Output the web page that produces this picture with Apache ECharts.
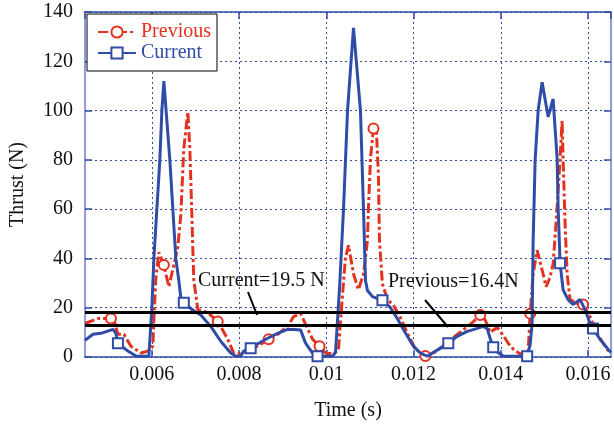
<!DOCTYPE html>
<html>
<head>
<meta charset="utf-8">
<script src="https://cdn.jsdelivr.net/npm/echarts@6/dist/echarts.min.js"></script>
<style>
html,body{margin:0;padding:0;background:#fff;}
#chart{width:614px;height:426px;}
</style>
</head>
<body>
<div id="chart"></div>
<script>
// ---- Data (time in seconds, thrust in N) ----
const prevT = [0.004467,0.004764,0.005062,0.005131,0.005222,0.005359,0.005520,0.005748,0.005909,0.006023,
  0.006046,0.006091,0.006160,0.006275,0.006389,0.006595,0.006664,0.006732,0.006824,0.006870,
  0.006893,0.006938,0.006961,0.007053,0.007281,0.007510,0.007579,0.007739,0.007876,0.008036,
  0.008219,0.008425,0.008677,0.008883,0.009112,0.009249,0.009409,0.009569,0.009684,0.009844,
  0.009981,0.010164,0.010279,0.010325,0.010439,0.010508,0.010622,0.010736,0.010851,0.010942,
  0.010965,0.011011,0.011080,0.011148,0.011194,0.011217,0.011285,0.011400,0.011537,0.011697,
  0.011858,0.012041,0.012269,0.012452,0.012681,0.013001,0.013299,0.013528,0.013642,0.013756,
  0.013916,0.014054,0.014168,0.014283,0.014443,0.014626,0.014672,0.014740,0.014832,0.014946,
  0.015038,0.015130,0.015198,0.015290,0.015358,0.015404,0.015427,0.015473,0.015519,0.015587,
  0.015747,0.015884,0.016044,0.016205,0.016434,0.016525];
const prevV = [13.6,15.6,15.6,15,9.2,9.2,4.4,1.6,2.4,4.4,
  15,32,42.5,37.3,28.5,44.5,57.8,84.6,99.5,84.6,
  71.4,44.5,31.3,19.3,18,14.4,12.4,7.2,1.6,1.2,
  3,4.4,7.2,9.2,12.4,16.4,17.6,11.6,7.2,4.4,
  1.6,1.2,3,15,40.5,45.3,33.7,27.3,33.7,47.3,
  60.6,80.6,92.7,91.5,73.8,47.3,29.7,23.3,21,16,
  9.6,3.2,0.4,1.6,4.4,9.2,13.2,17,15,10,
  12,8.8,5.6,3.2,1.2,2,17.6,33.7,43.3,35.3,
  28.5,32.5,37.7,60.6,80.6,95.9,80.6,53.7,33.7,23.3,
  21.7,21.3,16.4,9.6,3.2,1.5];
const prevMarks = [2,13,25,32,39,52,62,67,76,91];

const curT = [0.004467,0.004650,0.004833,0.005108,0.005176,0.005222,0.005451,0.005634,0.005931,0.006000,
  0.006046,0.006114,0.006183,0.006229,0.006275,0.006412,0.006481,0.006549,0.006618,0.006664,
  0.006732,0.006893,0.007121,0.007350,0.007579,0.007808,0.007922,0.008036,0.008105,0.008265,
  0.008448,0.008654,0.008883,0.009112,0.009249,0.009409,0.009523,0.009684,0.009798,0.010141,
  0.010210,0.010256,0.010302,0.010393,0.010485,0.010622,0.010782,0.010851,0.010897,0.010942,
  0.011057,0.011285,0.011469,0.011629,0.011766,0.011995,0.012155,0.012315,0.012612,0.012795,
  0.013001,0.013230,0.013459,0.013596,0.013688,0.013756,0.013825,0.013916,0.014054,0.014603,
  0.014672,0.014717,0.014740,0.014786,0.014855,0.014946,0.015084,0.015198,0.015290,0.015313,
  0.015358,0.015427,0.015541,0.015656,0.015816,0.015930,0.016044,0.016113,0.016273,0.016456,
  0.016525];
const curV = [6.8,9.2,9.6,11.2,9.6,5.6,2.4,0.4,0.3,20,
  40,60,80,100,112,80,60,40,31,24,
  22,19.6,17,12.4,6.4,1.6,0.4,0.3,2.4,3.6,
  5.6,7.6,9.6,11.2,11.2,11,5.6,1.6,0.3,0.3,
  2,15,28,60,100,133.6,100,60,31,27,
  24.5,23,20,15.5,11.2,4.4,1.6,0.3,3.6,5.6,
  8.4,10.4,11.6,12.4,11.5,7.5,4,2,0.4,0.3,
  5,13.6,47,80,100,111.5,97.5,104.7,80.6,60.6,
  38,27.3,23.3,21.3,23.3,19.3,13.6,11.6,7.2,3.2,
  1.8];
const curMarks = [5,20,29,38,51,59,66,69,80,87];

const refLines = [18.1, 13.0];            // drawn horizontal levels
const refTexts = ['Current=19.5 N', 'Previous=16.4N'];
const seriesNames = ['Previous', 'Current'];
const xMin = 0.004467, xMax = 0.016525;
const yTicks = [0, 20, 40, 60, 80, 100, 120, 140];

// ---- Styling ----
const RED = '#e3321f', BLUE = '#2f4ca6', DARK = '#2f4ca6', LIGHT = '#8e9dd9';
const FONT = '"Liberation Serif", "Times New Roman", serif';

function buildData(ts, vs, marks) {
  return ts.map((t, i) => marks.indexOf(i) >= 0 ? [t, vs[i]] : { value: [t, vs[i]], symbol: 'none' });
}

const chart = echarts.init(document.getElementById('chart'), null, { renderer: 'canvas' });
const gridLine = { show: true, lineStyle: { color: DARK, width: 1, type: [2, 3] } };
const tickIn = { show: true, inside: true, length: 7, lineStyle: { color: DARK, width: 1.5 } };
const labelStyle = { color: '#111', fontSize: 20, fontFamily: FONT };

chart.setOption({
  animation: false,
  backgroundColor: '#fff',
  grid: { left: 84, right: 3, top: 12, bottom: 65, containLabel: false },
  legend: {
    data: [
      { name: seriesNames[0], textStyle: { color: RED } },
      { name: seriesNames[1], textStyle: { color: BLUE } }
    ],
    orient: 'vertical', left: 87, top: 14,
    padding: [8, 6, 8, 10], itemGap: 1, itemWidth: 38, itemHeight: 14,
    backgroundColor: '#fff', borderColor: '#000', borderWidth: 1,
    textStyle: { fontSize: 20, fontFamily: FONT, lineHeight: 20, padding: [0, 0, 0, 0] },
    selectedMode: false
  },
  xAxis: [{
    type: 'value', position: 'bottom', min: xMin, max: xMax,
    minInterval: 0.002, maxInterval: 0.002,
    name: 'Time (s)', nameLocation: 'middle', nameGap: 44,
    nameTextStyle: labelStyle,
    axisLine: { onZero: false, lineStyle: { color: DARK, width: 1.5 } },
    axisTick: tickIn,
    axisLabel: Object.assign({ margin: 8, showMinLabel: false, showMaxLabel: false,
      formatter: v => String(+v.toFixed(4)) }, labelStyle),
    splitLine: gridLine
  }, {
    type: 'value', position: 'top', min: xMin, max: xMax,
    minInterval: 0.002, maxInterval: 0.002,
    axisLine: { onZero: false, lineStyle: { color: DARK, width: 1.5 } },
    axisTick: tickIn, axisLabel: { show: false }, splitLine: { show: false }
  }],
  yAxis: [{
    type: 'value', position: 'left', min: yTicks[0], max: yTicks[yTicks.length - 1], interval: 20,
    name: 'Thrust (N)', nameLocation: 'middle', nameGap: 57,
    nameTextStyle: labelStyle,
    axisLine: { onZero: false, lineStyle: { color: LIGHT, width: 2 } },
    axisTick: tickIn,
    axisLabel: Object.assign({ margin: 12 }, labelStyle),
    splitLine: gridLine
  }, {
    type: 'value', position: 'right', min: yTicks[0], max: yTicks[yTicks.length - 1], interval: 20,
    axisLine: { onZero: false, lineStyle: { color: LIGHT, width: 2 } },
    axisTick: tickIn, axisLabel: { show: false }, splitLine: { show: false }
  }],
  series: [{
    name: seriesNames[0], type: 'line',
    data: buildData(prevT, prevV, prevMarks),
    symbol: 'emptyCircle', symbolSize: 10, showSymbol: true,
    itemStyle: { color: RED, borderWidth: 1 },
    lineStyle: { color: RED, width: 3, type: [10, 3, 3, 3] },
    z: 3
  }, {
    name: seriesNames[1], type: 'line',
    data: buildData(curT, curV, curMarks),
    symbol: 'emptyRect', symbolSize: 10, showSymbol: true,
    itemStyle: { color: BLUE, borderWidth: 1 },
    lineStyle: { color: BLUE, width: 3, type: 'solid' },
    z: 4,
    markLine: {
      silent: true, symbol: 'none', animation: false,
      label: { show: false },
      lineStyle: { color: '#000', width: 3, type: 'solid' },
      data: refLines.map(v => ({ yAxis: v }))
    }
  }],
  graphic: [
    { type: 'text', left: 198, top: 271, z: 10,
      style: { text: refTexts[0], fill: '#111', fontSize: 20, fontFamily: FONT } },
    { type: 'line', z: 10, shape: { x1: 248, y1: 292, x2: 257, y2: 315 },
      style: { stroke: '#000', lineWidth: 2 } },
    { type: 'text', left: 388, top: 272, z: 10,
      style: { text: refTexts[1], fill: '#111', fontSize: 20, fontFamily: FONT } },
    { type: 'line', z: 10, shape: { x1: 425, y1: 300, x2: 448, y2: 327 },
      style: { stroke: '#000', lineWidth: 2 } }
  ]
});
</script>
</body>
</html>
